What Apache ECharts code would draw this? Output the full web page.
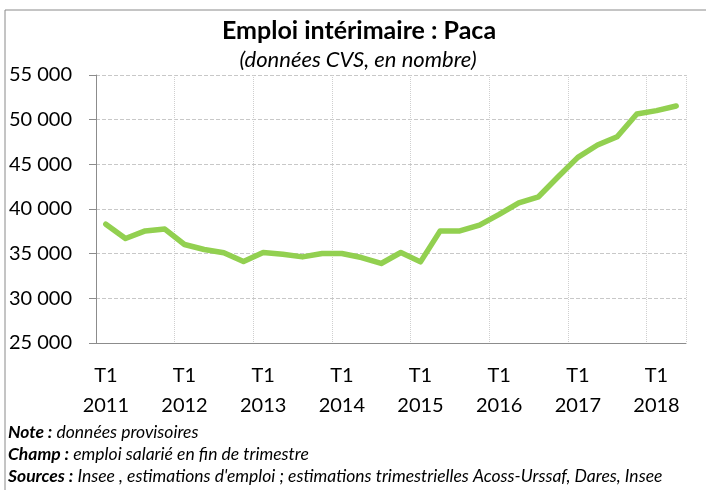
<!DOCTYPE html>
<html>
<head>
<meta charset="utf-8">
<script src="https://cdn.jsdelivr.net/npm/echarts@6/dist/echarts.min.js"></script>
<style>
  html, body { margin: 0; padding: 0; background: #fff; }
  #container { width: 706px; height: 490px; }
</style>
</head>
<body>
<div id="container"></div>
<script>
// trimestres 2011 T1 -> 2018 T2
const quarters = [
  'T1\n2011', 'T2\n2011', 'T3\n2011', 'T4\n2011',
  'T1\n2012', 'T2\n2012', 'T3\n2012', 'T4\n2012',
  'T1\n2013', 'T2\n2013', 'T3\n2013', 'T4\n2013',
  'T1\n2014', 'T2\n2014', 'T3\n2014', 'T4\n2014',
  'T1\n2015', 'T2\n2015', 'T3\n2015', 'T4\n2015',
  'T1\n2016', 'T2\n2016', 'T3\n2016', 'T4\n2016',
  'T1\n2017', 'T2\n2017', 'T3\n2017', 'T4\n2017',
  'T1\n2018', 'T2\n2018'
]
// emploi intérimaire (CVS)
const emploi = [
  38300, 36700, 37550, 37750,
  36030, 35470, 35100, 34120,
  35130, 34940, 34640, 35020,
  35020, 34570, 33900, 35130,
  34080, 37550, 37550, 38190,
  39390, 40690, 41370, 43610,
  45780, 47160, 48090, 50640,
  51010, 51530
]
const yTicks = [25000, 30000, 35000, 40000, 45000, 50000, 55000]

const fontFamily = 'Lato, "Liberation Sans", sans-serif'

const option = {
  animation: false,
  backgroundColor: '#fff',
  title: [
    {
      text: 'Emploi intérimaire : Paca',
      left: 359,
      textAlign: 'center',
      top: 18,
      padding: 0,
      textStyle: { fontFamily: fontFamily, fontSize: 25, fontWeight: 'bold', color: '#000' }
    },
    {
      text: '(données CVS, en nombre)',
      left: 358,
      textAlign: 'center',
      top: 49,
      padding: 0,
      textStyle: { fontFamily: fontFamily, fontSize: 22, fontStyle: 'italic', fontWeight: 'normal', color: '#000' }
    }
  ],
  grid: { left: 96, right: 20, top: 75, bottom: 147, containLabel: false },
  xAxis: {
    type: 'category',
    data: quarters,
    boundaryGap: true,
    axisLine: { lineStyle: { color: '#8c8c8c', width: 1 } },
    axisTick: { interval: 3, length: 7, lineStyle: { color: '#8c8c8c' } },
    axisLabel: {
      interval: 3,
      fontFamily: fontFamily,
      fontSize: 20,
      lineHeight: 30,
      color: '#000',
      margin: 18
    },
    splitLine: { show: true, interval: 3, lineStyle: { color: '#cfcfcf', type: 'dotted' } }
  },
  yAxis: {
    type: 'value',
    min: yTicks[0],
    max: yTicks[yTicks.length - 1],
    interval: 5000,
    axisLine: { show: true, lineStyle: { color: '#8c8c8c' } },
    axisTick: { show: true, length: 7, lineStyle: { color: '#8c8c8c' } },
    axisLabel: {
      fontFamily: fontFamily,
      fontSize: 20,
      color: '#000',
      margin: 24,
      formatter: v => String(v).replace(/\B(?=(\d{3})+(?!\d))/g, ' ')
    },
    splitLine: { lineStyle: { color: '#c8c8c8', type: 'dashed' } }
  },
  series: [
    {
      name: 'Emploi intérimaire',
      type: 'line',
      data: emploi,
      symbol: 'none',
      lineStyle: { color: '#92d050', width: 5.5, join: 'round', cap: 'round' }
    }
  ],
  graphic: [
    {
      type: 'rect',
      shape: { x: 5, y: 10, width: 710, height: 490 },
      style: { fill: 'none', stroke: '#8a8a8a', lineWidth: 1 },
      silent: true
    },
    {
      type: 'text',
      left: 8,
      top: 421,
      style: {
        text: '{b|Note :} données provisoires\n{b|Champ :} emploi salarié en fin de trimestre\n{b|Sources :} Insee , estimations d\'emploi ; estimations trimestrielles Acoss-Urssaf, Dares, Insee',
        fontFamily: fontFamily,
        fontSize: 17.5,
        fontStyle: 'italic',
        lineHeight: 22,
        fill: '#000',
        rich: {
          b: { fontFamily: fontFamily, fontSize: 17.5, fontStyle: 'italic', fontWeight: 'bold', lineHeight: 22 }
        }
      }
    }
  ]
}

const dom = document.getElementById('container')
const myChart = echarts.init(dom)
myChart.setOption(option)
</script>
</body>
</html>
